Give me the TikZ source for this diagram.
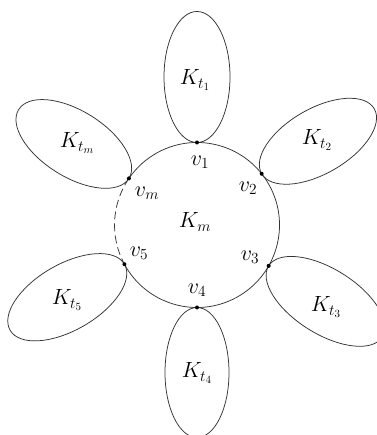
\RequirePackage{fix-cm}
\documentclass[tikz,border=0pt]{standalone}
\usetikzlibrary{calc}
\begin{document}
\begin{tikzpicture}[x=1pt,y=1pt,
  line/.style={line width=0.75pt, draw=black!80},
  lbl/.style={font=\fontsize{22}{26}\selectfont, inner sep=0pt},
  vdot/.style={circle, fill=black, inner sep=0pt, minimum size=4pt}]
\useasboundingbox (0,0) rectangle (376,435);
\coordinate (C) at (197,210);
\def\R{82.5}
\coordinate (p1) at ($(C)+(90:\R)$);
\coordinate (p2) at ($(C)+(38.4:\R)$);
\coordinate (p3) at ($(C)+(-29.7:\R)$);
\coordinate (p4) at ($(C)+(-90:\R)$);
\coordinate (p5) at ($(C)+(208.4:\R)$);
\coordinate (pm) at ($(C)+(145.6:\R)$);
% central clique
\draw[line] (p5) arc[start angle=208.4, end angle=505.6, radius=\R];
\draw[line, dash pattern=on 8pt off 4pt] (pm) arc[start angle=145.6, end angle=208.4, radius=\R];
% petals
\begin{scope}[shift={(p1)}, rotate=90]
  \draw[line] (65.5,0) ellipse [x radius=65.5, y radius=33];
\end{scope}
\begin{scope}[shift={(p2)}, rotate=30]
  \draw[line] (65,0) ellipse [x radius=65, y radius=32.5];
\end{scope}
\begin{scope}[shift={(p3)}, rotate=-32]
  \draw[line] (67,0) ellipse [x radius=67, y radius=32.5];
\end{scope}
\begin{scope}[shift={(p4)}, rotate=-90]
  \draw[line] (65,0) ellipse [x radius=65, y radius=32];
\end{scope}
\begin{scope}[shift={(p5)}, rotate=210]
  \draw[line] (66,0) ellipse [x radius=66, y radius=33];
\end{scope}
\begin{scope}[shift={(pm)}, rotate=148]
  \draw[line] (65,0) ellipse [x radius=65, y radius=33];
\end{scope}
% vertices
\node[vdot] (v1) at (p1) {};
\node[vdot] (v2) at (p2) {};
\node[vdot] (v3) at (p3) {};
\node[vdot] (v4) at (p4) {};
\node[vdot] (v5) at (p5) {};
\node[vdot] (vm) at (pm) {};
% labels
\node[lbl] (l1) at (200,273) {$v_1$};
\node[lbl] (l2) at (248,247) {$v_2$};
\node[lbl] (l3) at (250,178) {$v_3$};
\node[lbl] (l4) at (197,145) {$v_4$};
\node[lbl] (l5) at (139,182) {$v_5$};
\node[lbl] (lm) at (147,242) {$v_m$};
\node[lbl] (Km) at (195,213) {$K_m$};
\node[lbl] (K1) at (195,355) {$K_{t_1}$};
\node[lbl] (K2) at (317,295) {$K_{t_2}$};
\node[lbl] (K3) at (326,128) {$K_{t_3}$};
\node[lbl] (K4) at (197,62) {$K_{t_4}$};
\node[lbl] (K5) at (67,135) {$K_{t_5}$};
\node[lbl] (Kmm) at (77,292) {$K_{t_m}$};
\end{tikzpicture}
\end{document}
